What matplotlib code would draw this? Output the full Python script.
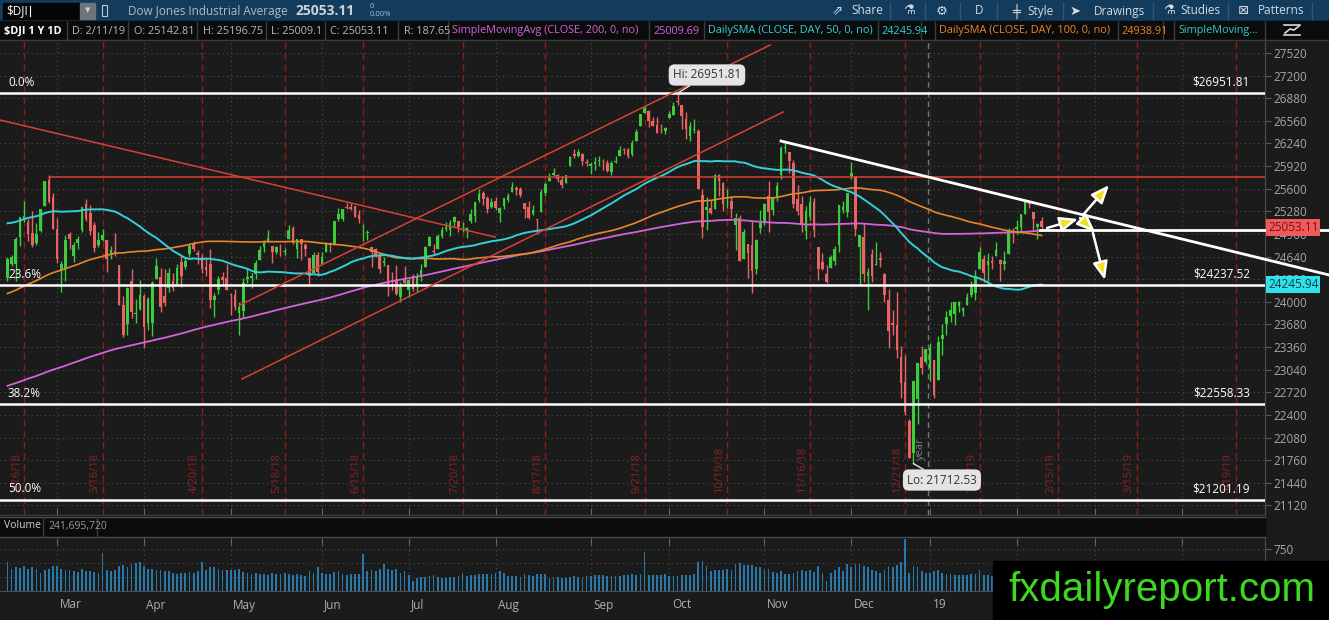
import matplotlib
matplotlib.use("Agg")
import matplotlib.pyplot as plt
import matplotlib.transforms as mtransforms
from matplotlib.patches import Rectangle
from matplotlib.lines import Line2D
import numpy as np
import pandas as pd

plt.rcParams['font.family'] = ['Open Sans', 'DejaVu Sans']

# ---- data ----
holidays = ['2018-02-19', '2018-03-30', '2018-05-28', '2018-07-04', '2018-09-03',
            '2018-11-22', '2018-12-05', '2018-12-25', '2019-01-01', '2019-01-21',
            '2019-02-18', '2019-04-19', '2019-05-27']

# closes before the chart window (Apr 25 2017 - Feb 9 2018), only for the moving averages
warmup_closes = [
    20996, 20975, 20981, 20940,
    20913, 20949, 20957, 20951, 21007, 21012, 20975, 20943, 20919, 20896, 20981, 20979,
    20606, 20663, 20804, 20894, 20937, 20957, 21012, 21080, 21029, 21008,
    21144, 21206, 21184, 21136, 21173, 21182, 21271, 21235, 21328, 21374, 21360, 21384,
    21528, 21467, 21410, 21397, 21395, 21409, 21310, 21454, 21288, 21350,
    21479, 21478, 21320, 21414, 21409, 21409, 21532, 21553, 21638, 21629, 21574, 21641,
    21611, 21580, 21513, 21613, 21711, 21796, 21830, 21891,
    21964, 22016, 22026, 22092, 22118, 22085, 22048, 21844, 21858, 21994, 21998, 22025,
    21750, 21675, 21703, 21899, 21812, 21783, 21813, 21808, 21865, 21892, 21948,
    21988, 21753, 21807, 21784, 21797, 22057, 22118, 22158, 22203, 22268, 22331, 22370,
    22412, 22359, 22349, 22296, 22284, 22341, 22381, 22405,
    22557, 22641, 22661, 22775, 22773, 22761, 22830, 22872, 22841, 22871, 22957, 22997,
    23157, 23163, 23329, 23274, 23441, 23329, 23400, 23434, 23348, 23377,
    23436, 23517, 23539, 23548, 23557, 23563, 23461, 23422, 23439, 23409, 23272, 23458,
    23358, 23430, 23590, 23526, 23558, 23580, 23836, 24140, 24272,
    24232, 24290, 24180, 24141, 24212, 24329, 24387, 24505, 24585, 24509, 24652, 24792,
    24754, 24726, 24782, 24754, 24746, 24774, 24838, 24719,
    24824, 24922, 25075, 25296, 25283, 25385, 25369, 25575, 25803, 25792, 26116, 26017,
    26071, 26214, 26210, 26252, 26392, 26616, 26439, 26076, 26149,
    26186, 25521, 24346, 24913, 24893, 23860, 24191,
]

opens = [
    24337, 24540, 24535, 24923, 25165, 25124, 24980, 24839, 25003, 25352, 25725, 25485,
    25024, 24451, 24464, 24960, 24652, 24837, 25018, 25380, 25262, 25091, 24803, 24872,
    24875, 24661, 24722, 24525, 23958, 23684, 24298, 23833, 23898,
    24076, 23700, 23700, 24324, 24358, 24085, 24201, 24298, 24257, 24560, 24493, 24677,
    24813, 24685, 24638, 24487, 24541, 24028, 24170, 24351, 24338,
    24117, 24097, 23836, 23865, 24317, 24341, 24399, 24591, 24771, 24865, 24796, 24705,
    24726, 24703, 24883, 25048, 24745, 24883, 24803, 24626, 24409, 24657,
    24542, 24706, 24831, 24818, 25169, 25174, 25335, 25337, 25356, 25229, 25084, 24979,
    24783, 24746, 24666, 24554, 24528, 24308, 24329, 24071, 24344,
    24161, 24363, 24224, 24360, 24486, 24784, 24721, 24750, 24935, 25024, 25012, 25126,
    25139, 25052, 25007, 25137, 25209, 25441, 25534, 25474, 25346,
    25432, 25257, 25349, 25444, 25557, 25607, 25594, 25401, 25341, 25244, 25165, 25270,
    25539, 25710, 25796, 25793, 25730, 25679, 25923, 26093, 26070, 26086, 25976,
    25916, 25950, 25995, 25921, 25964, 25831, 25977, 26069, 26158, 26167, 26091, 26277,
    26483, 26674, 26693, 26563, 26505, 26444, 26413,
    26598, 26641, 26833, 26787, 26590, 26350, 26428, 26412, 25513, 25297, 25332, 25312,
    25793, 25682, 25436, 25433, 25087, 25190, 24610, 24812, 24801, 24459, 25050,
    25109, 25501, 25295, 25479, 25796, 26176, 26115, 25965, 25459, 25388, 25001, 25201,
    25416, 24770, 24563, 24389, 24474, 24571, 24811, 25296, 25273,
    25779, 25780, 24780, 24919, 24360, 24675, 24519, 24614, 24399, 24025, 23705, 23677,
    23225, 22872, 22317, 21858, 22629, 23213, 23153,
    23058, 23177, 22895, 23474, 23681, 23804, 23831, 23947, 23877, 23958, 24097, 24129,
    24469, 24602, 24528, 24574, 24645, 24588, 24531, 24681, 25003,
    25026, 25062, 25238, 25398, 25266, 25054, 25142.81,
]

highs = [
    24641, 24668, 24924, 25200, 25433, 25178, 25283, 25122, 25310, 25710, 25800, 25539,
    25193, 24583, 24946, 24987, 24844, 24926, 25336, 25449, 25376, 25134, 24988, 25026,
    24876, 24795, 24977, 24525, 24083, 24211, 24463, 24042, 24306,
    24118, 24062, 24297, 24622, 24485, 24458, 24473, 24413, 24531, 24643, 24621, 24835,
    24859, 24731, 24683, 24615, 24750, 24130, 24366, 24423, 24535,
    24117, 24185, 23996, 24333, 24479, 24412, 24586, 24784, 24868, 25012, 24796, 24796,
    24821, 24757, 25086, 25080, 24889, 24884, 24830, 24626, 24704, 24699,
    24700, 24852, 24845, 25146, 25326, 25318, 25402, 25400, 25359, 25298, 25102, 25019,
    24783, 24768, 24708, 24634, 24528, 24419, 24526, 24285, 24510,
    24318, 24400, 24404, 24532, 24791, 24932, 24824, 24957, 25053, 25130, 25154, 25214,
    25139, 25136, 25064, 25311, 25418, 25600, 25563, 25495, 25475,
    25487, 25344, 25463, 25541, 25692, 25632, 25618, 25401, 25424, 25371, 25165, 25601,
    25693, 25825, 25891, 25811, 25784, 25801, 26070, 26167, 26167, 26102, 26015,
    25980, 26047, 26065, 26020, 26008, 25998, 26067, 26204, 26180, 26180, 26283, 26448,
    26662, 26770, 26711, 26620, 26620, 26519, 26476,
    26700, 26828, 26951.81, 26787, 26679, 26543, 26580, 26451, 25602, 25482, 25441, 25811,
    25802, 25695, 25593, 25488, 25252, 25227, 25035, 24817, 25148, 24887, 25293,
    25401, 25704, 25485, 25699, 26198, 26277, 26115, 26002, 25657, 25501, 25349, 25502,
    25475, 24770, 24693, 24521, 24658, 24793, 25374, 25429, 25538,
    25980, 25780, 24948, 25119, 24480, 24744, 24845, 24710, 24414, 24179, 23883, 24137,
    23382, 23254, 22339, 22879, 23138, 23381, 23333,
    23413, 23177, 23518, 23687, 23865, 24000, 24002, 24006, 23927, 24121, 24297, 24457,
    24777, 24660, 24691, 24653, 24853, 24613, 24717, 25050, 25039,
    25160, 25239, 25441, 25442, 25266, 25112, 25196.75,
]

lows = [
    24288, 24505, 24300, 24793, 25134, 24860, 24780, 24809, 24992, 25352, 25392, 25027,
    24551, 24142, 24300, 24744, 24562, 24753, 24991, 25147, 24946, 24706, 24780, 24867,
    24418, 24604, 24648, 23958, 23509, 23530, 23772, 23695, 23880,
    23345, 23600, 23523, 24324, 23861, 23945, 24133, 24155, 24257, 24207, 24460, 24629,
    24720, 24530, 24413, 24367, 23908, 23780, 24110, 24235, 24163,
    23808, 23886, 23532, 23778, 24263, 24198, 24323, 24591, 24710, 24851, 24552, 24674,
    24647, 24669, 24883, 24813, 24626, 24585, 24650, 24241, 24409, 24372,
    24542, 24706, 24708, 24806, 25147, 25148, 25313, 25300, 25200, 25111, 24857, 24869,
    24496, 24628, 24402, 24509, 24084, 24167, 24103, 23997, 24244,
    24075, 24152, 24138, 24297, 24486, 24784, 24673, 24750, 24910, 24996, 24931, 25080,
    24985, 24985, 24904, 25113, 25132, 25417, 25375, 25250, 25321,
    25294, 25123, 25316, 25409, 25547, 25514, 25490, 25189, 25168, 25228, 24965, 25270,
    25500, 25710, 25775, 25697, 25616, 25679, 25923, 26040, 26055, 25936, 25918,
    25802, 25866, 25917, 25863, 25835, 25790, 25962, 26069, 26086, 26039, 26069, 26277,
    26483, 26667, 26472, 26490, 26385, 26388, 26378,
    26598, 26638, 26784, 26446, 26299, 26269, 26393, 25598, 24899, 25010, 25242, 25312,
    25501, 25282, 25327, 25193, 24736, 24573, 24610, 24339, 24122, 24400, 24974,
    25082, 24990, 25232, 25431, 25736, 26104, 25822, 25331, 25229, 24984, 24884, 25164,
    24922, 24303, 24452, 24270, 24474, 24515, 24701, 25256, 25200,
    25738, 24932, 24242, 24287, 23881, 24275, 24519, 24500, 24003, 23351, 23536, 23210,
    22640, 22396, 21792, 21712.53, 22268, 22982, 23118,
    22884, 22638, 22895, 23254, 23528, 23708, 23674, 23859, 23805, 23951, 24065, 24022,
    24469, 24274, 24289, 24471, 24645, 24301, 24444, 24681, 24832,
    24962, 24995, 25238, 25324, 25008, 24883, 25009.1,
]

closes = [
    24601, 24641, 24893, 25200, 25219, 24964, 24798, 24962, 25310, 25709, 25410, 25029,
    24609, 24538, 24874, 24885, 24801, 24895, 25336, 25179, 25008, 24759, 24873, 24947,
    24611, 24727, 24683, 23958, 23533, 24202, 23857, 23849, 24103,
    23644, 24034, 24264, 24505, 23933, 23979, 24408, 24190, 24483, 24360, 24573, 24786,
    24748, 24665, 24463, 24448, 24024, 24084, 24322, 24311, 24163,
    24100, 23925, 23930, 24263, 24358, 24361, 24543, 24740, 24831, 24900, 24707, 24769,
    24714, 24715, 25013, 24835, 24887, 24812, 24753, 24362, 24668, 24416,
    24635, 24814, 24800, 25146, 25242, 25317, 25322, 25320, 25201, 25175, 25090, 24988,
    24700, 24657, 24461, 24581, 24253, 24284, 24117, 24216, 24271,
    24307, 24175, 24357, 24456, 24776, 24920, 24700, 24925, 25019, 25064, 25120, 25199,
    25064, 25058, 25044, 25241, 25415, 25527, 25451, 25307, 25415,
    25334, 25327, 25463, 25502, 25629, 25583, 25509, 25313, 25188, 25299, 25162, 25558,
    25669, 25758, 25822, 25733, 25656, 25790, 26050, 26064, 26125, 25987, 25965,
    25952, 25975, 25996, 25917, 25857, 25971, 25999, 26146, 26155, 26062, 26247, 26406,
    26657, 26744, 26562, 26492, 26385, 26440, 26458,
    26651, 26774, 26828, 26628, 26447, 26487, 26431, 25599, 25053, 25340, 25250, 25798,
    25706, 25379, 25444, 25317, 25191, 24583, 24985, 24689, 24443, 24875, 25116,
    25380, 25271, 25462, 25636, 26181, 26191, 25989, 25387, 25287, 25081, 25290, 25413,
    25018, 24466, 24465, 24286, 24640, 24749, 25367, 25339, 25538,
    25826, 25027, 24947, 24389, 24423, 24370, 24527, 24597, 24101, 23592, 23676, 23324,
    22859, 22445, 21792, 22878, 23138, 23062, 23327,
    23346, 22686, 23433, 23531, 23787, 23879, 24001, 23996, 23910, 24065, 24207, 24370,
    24706, 24404, 24575, 24553, 24737, 24529, 24579, 25015, 24999,
    25064, 25239, 25411, 25391, 25169, 25106, 25053.11,
]

# volume in millions of shares
volumes = [
    520, 400, 420, 410, 450, 390, 420, 400, 330, 380, 400, 440,
    450, 400, 370, 380, 360, 340, 390, 350, 360, 340, 330, 680, 380, 350, 380, 440,
    470, 430, 480, 500, 520,
    440, 400, 390, 380, 370, 350, 360, 320, 310, 320, 330, 340, 330, 350, 520, 370,
    420, 430, 390, 380, 370,
    380, 370, 390, 340, 330, 310, 320, 310, 300, 290, 320, 300, 310, 330, 300, 290,
    300, 280, 260, 360, 330, 420,
    320, 300, 300, 340, 350, 300, 290, 300, 310, 300, 660, 350, 380, 360, 400, 490,
    400, 380, 390, 330, 350,
    280, 180, 230, 250, 250, 260, 280, 250, 240, 240, 250, 250, 260, 320, 270, 280,
    290, 300, 310, 300, 310,
    330, 350, 320, 260, 270, 260, 250, 300, 280, 260, 300, 310, 300, 240, 250, 250,
    240, 230, 250, 260, 250, 240, 270,
    260, 280, 280, 290, 260, 270, 270, 260, 280, 290, 300, 290, 300, 690, 290, 280,
    290, 280, 300,
    260, 270, 270, 290, 280, 290, 300, 520, 540, 440, 350, 380, 380, 380, 400, 370,
    480, 500, 470, 470, 460, 430, 420,
    370, 400, 340, 320, 360, 310, 300, 330, 360, 370, 360, 380, 340, 440, 330, 170,
    330, 370, 420, 360, 480,
    420, 480, 480, 450, 430, 380, 350, 330, 380, 450, 430, 470, 520, 930, 330, 440,
    420, 360, 320,
    330, 360, 380, 330, 310, 300, 290, 280, 280, 290, 300, 310, 380, 290, 280, 270,
    300, 260, 250, 320, 360,
    290, 260, 280, 270, 290, 260, 241.7,
]

expiry_dates = ['2018-02-16', '2018-03-16', '2018-04-20', '2018-05-18', '2018-06-15',
                '2018-07-20', '2018-08-17', '2018-09-21', '2018-10-19', '2018-11-16',
                '2018-12-21', '2019-01-18', '2019-02-15', '2019-03-15', '2019-04-19']
# month labels under the watermark (Feb-Apr 2019) are not shown in the reference
month_starts = ['2018-03-01', '2018-04-01', '2018-05-01', '2018-06-01', '2018-07-01',
                '2018-08-01', '2018-09-01', '2018-10-01', '2018-11-01', '2018-12-01',
                '2019-01-01', '2019-02-01', '2019-03-01', '2019-04-01']
month_labels = ['Mar', 'Apr', 'May', 'Jun', 'Jul', 'Aug', 'Sep', 'Oct', 'Nov', 'Dec',
                '19', '', '', '']

fib_pcts = ['0.0%', '23.6%', '38.2%', '50.0%']
fib_prices = [26951.81, 24237.52, 22558.33, 21201.19]

last_close = 25053.11
sma50_last = 24245.94

# ---- trading-day axis ----
days = pd.bdate_range('2018-02-12', '2019-05-31')
days = days[~days.isin(pd.to_datetime(holidays))]


def day_idx(d):
    return days.searchsorted(pd.Timestamp(d), side='right') - 1


n = len(closes)
idx = np.arange(n)
o = np.array(opens, float)
h = np.array(highs, float)
l = np.array(lows, float)
c = np.array(closes, float)

allc = pd.Series(warmup_closes + closes, dtype=float)
k = len(warmup_closes)
sma200 = allc.rolling(200).mean().values[k:]
sma50 = allc.rolling(50).mean().values[k:]
sma100 = allc.rolling(100).mean().values[k:]

# ---- figure ----
W, H = 1329, 620
BG = '#1b1b1b'
fig = plt.figure(figsize=(W / 100, H / 100), dpi=100, facecolor=BG)


def frect(x0, y0, x1, y1, **kw):
    fig.patches.append(Rectangle((x0 / W, 1 - y1 / H), (x1 - x0) / W, (y1 - y0) / H,
                                 transform=fig.transFigure, **kw))


def ftext(x, y, s, **kw):
    kw.setdefault('va', 'center')
    fig.text(x / W, 1 - y / H, s, **kw)


def fline(xs, ys, **kw):
    fig.add_artist(Line2D([x / W for x in xs], [1 - y / H for y in ys],
                          transform=fig.transFigure, **kw))


XL = (-1.81, 304.0)
ax = fig.add_axes([0, 1 - 515 / H, 1265 / W, 475 / H])
axv = fig.add_axes([0, 1 - 591 / H, 1265 / W, 53 / H])
for a in (ax, axv):
    a.set_facecolor(BG)
    a.set_xlim(*XL)
    for s in ('left', 'top'):
        a.spines[s].set_visible(False)
    for s in ('right', 'bottom'):
        a.spines[s].set_color('#4e4e4e')

ax.set_ylim(20985, 27704)
price_ticks = np.arange(21120, 27521, 320)
ax.yaxis.tick_right()
ax.set_yticks(price_ticks)
ax.tick_params(axis='y', colors='#5a5a5a', labelcolor='#a6a6a6', labelsize=8.5,
               length=4, pad=2)

month_idx = [day_idx(m) + 1 if days[day_idx(m)] < pd.Timestamp(m) else day_idx(m)
             for m in month_starts]
for a in (ax, axv):
    a.set_xticks(month_idx)
    a.grid(True, color='#4c4c4c', linestyle=(0, (1, 3)), linewidth=0.8)
ax.tick_params(axis='x', direction='in', length=5, color='#666666', labelbottom=False)
axv.tick_params(axis='x', direction='in', length=5, color='#666666', labelbottom=False,
                top=True, bottom=False)

# option-expiry lines and labels
for d in expiry_dates:
    i = day_idx(d)
    ax.axvline(i, color='#8e1b1b', linestyle=(0, (5, 3)), linewidth=1, zorder=1)
    ts = pd.Timestamp(d)
    ax.text(i - 0.5, 21300, f'{ts.month}/{ts.day}/{ts.strftime("%y")}', rotation=90,
            ha='right', va='bottom', color='#8e2222', fontsize=8, zorder=1, clip_on=True)

# year separator
ax.axvline(222.5, color='#777777', linestyle=(0, (4, 3)), linewidth=1, zorder=1)
ax.text(222.0, 21760, 'year', rotation=90, ha='right', va='bottom', color='#808080',
        fontsize=8, zorder=1)

# candles
green, red = '#3ccc3c', '#e86464'
up = c >= o
col = np.where(up, green, red)
ax.vlines(idx, l, h, colors=col, linewidth=1, zorder=2)
ax.bar(idx, np.maximum(np.abs(c - o), 10), bottom=np.minimum(o, c), width=0.64,
       color=col, linewidth=0, zorder=2)

# studies
ax.plot(idx, sma200, color='#d264d8', linewidth=1.3, zorder=3)
ax.plot(idx, sma100, color='#e8862a', linewidth=1.2, zorder=3)
ax.plot(idx, sma50, color='#33d0d8', linewidth=1.4, zorder=3)

# fibonacci levels
ytr = mtransforms.blended_transform_factory(ax.transAxes, ax.transData)
for pct, p in zip(fib_pcts, fib_prices):
    ax.axhline(p, color='white', linewidth=1.8, zorder=4)
    ax.text(8 / 1265, p + 60, pct, transform=ytr, color='white', fontsize=8.5,
            ha='left', va='bottom', zorder=4)
    ax.text(1250 / 1265, p + 60, f'${p:.2f}', transform=ytr, color='white',
            fontsize=8.5, ha='right', va='bottom', zorder=4)

# drawings (trading-day index, price)
red_lines = [((-1.81, 26572), (117.9, 24917)),
             ((56.2, 23956), (184.4, 27634)),
             ((56.7, 22909), (187.5, 26686)),
             ((10, 25760), (304, 25760))]
for (x0, y0), (x1, y1) in red_lines:
    ax.plot([x0, x1], [y0, y1], color='#d84036', linewidth=1.1, zorder=4)
ax.plot([187, 319.5], [26275, 24380], color='white', linewidth=2, zorder=5,
        clip_on=False)
ax.plot([249.6, 319.5], [25010, 25010], color='white', linewidth=2, zorder=5,
        clip_on=False)

arrows = [((251.3, 25045), (258.8, 25172)),
          ((260.0, 25229), (266.3, 25653)),
          ((259.3, 25186), (262.9, 24988)),
          ((262.4, 24974), (265.3, 24309))]
for s, e in arrows:
    ax.annotate('', xy=e, xytext=s, zorder=6,
                arrowprops=dict(arrowstyle='-|>,head_length=1.1,head_width=0.45',
                                fc='#f2e01e', ec='white', lw=1.8, mutation_scale=10,
                                shrinkA=0, shrinkB=0))

# hi / lo callouts
box = dict(boxstyle='round,pad=0.35,rounding_size=0.5', fc='#e4e4e4', ec='none')
ax.annotate('Hi: 26951.81', xy=(162, 26951.81), xytext=(169.1, 27209), ha='center',
            va='center', fontsize=8.5, color='#333333', bbox=box, zorder=7,
            arrowprops=dict(arrowstyle='-', color='#e4e4e4', lw=1, shrinkA=0, shrinkB=0))
ax.annotate('Lo: 21712.53', xy=(219, 21712.53), xytext=(225.9, 21480), ha='center',
            va='center', fontsize=8.5, color='#333333', bbox=box, zorder=7,
            arrowprops=dict(arrowstyle='-', color='#e4e4e4', lw=1, shrinkA=0, shrinkB=0))

# price flags on the axis
ax.text(1268 / 1265, last_close, f'{last_close:.2f}', transform=ytr, ha='left',
        va='center', fontsize=8.5, color='#7a0f0f', zorder=8, clip_on=False,
        bbox=dict(boxstyle='square,pad=0.15', fc='#f05a5a', ec='none'))
ax.text(1268 / 1265, sma50_last, f'{sma50_last:.2f}', transform=ytr, ha='left',
        va='center', fontsize=8.5, color='#0b3d4a', zorder=8, clip_on=False,
        bbox=dict(boxstyle='square,pad=0.15', fc='#2fe0e8', ec='none'))

# volume
axv.bar(idx, volumes, width=0.42, color='#2a78a8', linewidth=0, zorder=2)
axv.set_ylim(0, 946)
axv.yaxis.tick_right()
axv.set_yticks([250, 500, 750])
axv.set_yticklabels(['', '', '750'])
axv.tick_params(axis='y', colors='#5a5a5a', labelcolor='#a6a6a6', labelsize=8.5,
                length=4, pad=2)

xt = mtransforms.blended_transform_factory(axv.transData, fig.transFigure)
for i, lab in zip(month_idx, month_labels):
    if lab:
        fig.text(i + 0.6, 1 - 605 / H, lab, transform=xt, ha='left', va='center',
                 color='#b0b0b0', fontsize=8.5)

# ---- chrome: toolbar ----
frect(0, 0, W, 21, color='#133b5b', zorder=1)
frect(3, 3, 79, 19, color='#050505', zorder=2)
frect(80, 3, 95, 19, color='#6f7478', zorder=2)
ftext(6, 11, '$DJI', color='white', fontsize=8.5, zorder=3)
fline([30, 30], [6, 16], color='white', linewidth=0.8, zorder=3)
ftext(87.5, 11, '▼', color='#d0d0d0', fontsize=5, ha='center', zorder=3)
frect(102, 5, 107, 16, fill=False, ec='#c0c8d0', lw=0.8, zorder=3)
ftext(128, 11, 'Dow Jones Industrial Average', color='#aebcc8', fontsize=8.5, zorder=3)
ftext(296, 11, '25053.11', color='#c8d2da', fontsize=10, fontweight='bold', zorder=3)
ftext(370, 6, '0', color='#aebcc8', fontsize=5.5, zorder=3)
ftext(370, 15, '0.00%', color='#aebcc8', fontsize=5.5, zorder=3)
tool_items = [(832, '⇗', 'DejaVu Sans'), (851, 'Share', None), (903, '⚗', 'DejaVu Sans'),
              (936, '⚙', 'DejaVu Sans'), (975, 'D', None), (1012, '╪', 'DejaVu Sans'),
              (1027, 'Style', None), (1070, '➤', 'DejaVu Sans'), (1094, 'Drawings', None),
              (1163, '⚗', 'DejaVu Sans'), (1180, 'Studies', None),
              (1238, '⊠', 'DejaVu Sans'), (1258, 'Patterns', None)]
for x, s, fam in tool_items:
    kw = dict(color='#d2dce4', fontsize=8.5, zorder=3)
    if fam:
        kw['family'] = fam
        kw['fontsize'] = 9.5
    ftext(x, 11, s, **kw)
for x in (890, 925, 960, 997, 1063, 1153, 1228, 1312):
    fline([x, x], [3, 19], color='#2c587a', linewidth=1, zorder=2)

# ---- chrome: study header ----
frect(0, 21, W, 40, color='#0b0b0b', zorder=1)
head_items = [(4, '$DJI 1 Y 1D', 'white', 'bold'),
              (72, 'D: 2/11/19', '#b8b8b8', 'normal'),
              (134, 'O: 25142.81', '#b8b8b8', 'normal'),
              (203, 'H: 25196.75', '#b8b8b8', 'normal'),
              (271, 'L: 25009.1', '#b8b8b8', 'normal'),
              (330, 'C: 25053.11', '#b8b8b8', 'normal'),
              (404, 'R: 187.65', '#b8b8b8', 'normal'),
              (452, 'SimpleMovingAvg (CLOSE, 200, 0, no)', '#d264d8', 'normal'),
              (653, '25009.69', '#d264d8', 'normal'),
              (708, 'DailySMA (CLOSE, DAY, 50, 0, no)', '#33d0d8', 'normal'),
              (882, '24245.94', '#33d0d8', 'normal'),
              (939, 'DailySMA (CLOSE, DAY, 100, 0, no)', '#e8862a', 'normal'),
              (1122, '24938.91', '#e8862a', 'normal'),
              (1178, 'SimpleMoving...', '#33c8c8', 'normal')]
for x, s, colr, wt in head_items:
    ftext(x, 31, s, color=colr, fontsize=7.8, fontweight=wt, zorder=3)
for x in (67, 128, 197, 266, 325, 398, 448, 649, 704, 878, 921, 935, 1118, 1163, 1174, 1265):
    fline([x, x], [22, 40], color='#3c3c3c', linewidth=1, zorder=2)
fline([0, W], [40, 40], color='#3c3c3c', linewidth=1, zorder=2)
fline([1284, 1300], [35, 35], color='#d8d8d8', linewidth=1.2, zorder=3)
fline([1284, 1300], [25, 25], color='#d8d8d8', linewidth=1.2, zorder=3)
fline([1285, 1290, 1294, 1299], [33, 29, 30, 26], color='#d8d8d8', linewidth=1.2, zorder=3)

# ---- chrome: volume header ----
frect(0, 516, 1265, 537, color='#0b0b0b', zorder=1)
fline([0, 1265], [516.5, 516.5], color='#4e4e4e', linewidth=1, zorder=2)
fline([0, 1265], [537, 537], color='#4e4e4e', linewidth=1, zorder=2)
fline([43, 43], [517, 537], color='#3c3c3c', linewidth=1, zorder=2)
fline([97, 97], [517, 537], color='#3c3c3c', linewidth=1, zorder=2)
ftext(4, 526, 'Volume', color='#d0d0d0', fontsize=7.5, zorder=3)
ftext(48, 526, '241,695,720', color='#9a9a9a', fontsize=7.5, zorder=3)

# ---- watermark ----
frect(993, 561, W, H, color='black', zorder=10)
ftext(1008, 601, 'fxdailyreport.com', color='#3ed820', fontsize=29,
      family='Liberation Sans', va='baseline', zorder=11)

fig.savefig('out.png', dpi=100, facecolor=BG)
